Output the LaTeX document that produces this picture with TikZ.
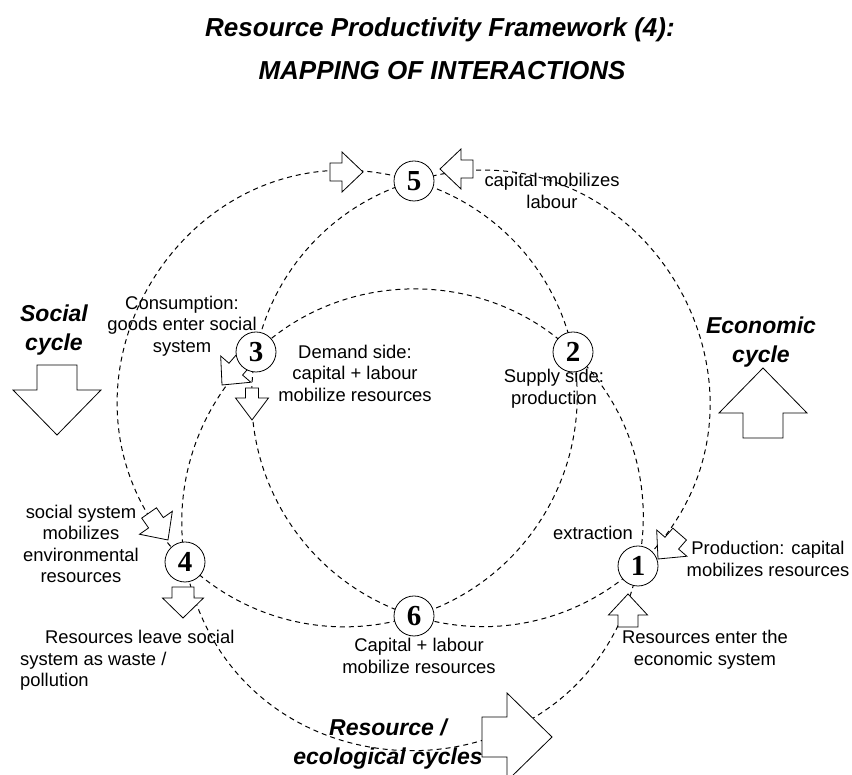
\documentclass[tikz,border=0pt]{standalone}
\usepackage{fontspec}
\setmainfont{Liberation Sans}
\newfontfamily\numfont{Liberation Serif}
\usetikzlibrary{backgrounds}

\begin{document}
\begin{tikzpicture}[x=1pt,y=1pt]
  \tikzset{num/.style={circle,draw,fill=white,line width=.8pt,minimum size=40pt,inner sep=0pt,font=\numfont\bfseries\fontsize{29}{29}\selectfont},
    lbl/.style={align=center,inner sep=0pt,font=\fontsize{18.4}{21.5}\selectfont},
    cyclelbl/.style={align=center,inner sep=0pt,font=\bfseries\itshape\fontsize{23}{29}\selectfont},
    titlelbl/.style={inner sep=0pt,font=\bfseries\itshape\fontsize{26}{26}\selectfont},
    ring/.style={line width=1pt,dash pattern=on 5pt off 4pt},
    blk/.style={draw,fill=white,line width=.8pt},
    pics/blkarr/.style args={#1/#2/#3/#4}{code={
      \draw[blk] (0,0) -- (-#4,#3/2) -- (-#4,#1/2) -- (-#4-#2,#1/2)
        -- (-#4-#2,-#1/2) -- (-#4,-#1/2) -- (-#4,-#3/2) -- cycle;}}}
  \useasboundingbox (0,0) rectangle (852,775);
  % title
  \node[titlelbl,anchor=base] (title) at (440,738) {Resource Productivity Framework (4):};
  \node[titlelbl,anchor=base] (subtitle) at (442,695) {MAPPING OF INTERACTIONS};
  % cycle names
  \node[cyclelbl] (social) at (54,445) {Social\\cycle};
  \node[cyclelbl] (economic) at (761,433) {Economic\\cycle};
  \node[cyclelbl] (ecol) at (388,31) {Resource /\\ecological cycles};
  % interaction labels
  \node[lbl] (caplab) at (552,584) {capital mobilizes\\labour};
  \node[lbl] (conslab) at (182,449) {Consumption:\\goods enter social\\system};
  \node[lbl] (demlab) at (355,402) {Demand side:\\capital + labour\\mobilize resources};
  \node[lbl] (suplab) at (554,386) {Supply side:\\production};
  \node[lbl] (extlab) at (593,242) {extraction};
  \node[lbl] (prodlab) at (768,216) {Production: capital\\mobilizes resources};
  \node[lbl] (envlab) at (81,231) {social system\\mobilizes\\environmental\\resources};
  \node[lbl] (mobres) at (419,119) {Capital + labour\\mobilize resources};
  \node[lbl] (enterlab) at (705,125) {Resources enter the\\economic system};
  \node[lbl,align=left,anchor=north west] (leavelab) at (20,145) {\hspace*{25pt}Resources leave social\\system as waste /\\pollution};
  % interaction points
  \node[num] (n5) at (414,594) {5};
  \node[num] (n3) at (256,423) {3};
  \node[num] (n2) at (573,423) {2};
  \node[num] (n4) at (185,213) {4};
  \node[num] (n1) at (638,209) {1};
  \node[num] (n6) at (414,159) {6};
  \begin{scope}[on background layer]
    \fill[white] (0,0) rectangle (852,775);
    % social ring
    \draw[ring] (n2.center) to[bend right=31,looseness=.92] (n5.center)
      to[bend right=76,looseness=1.37] (n4.center)
      to[bend right=31,looseness=.92] (n6.center)
      to[bend right=42,looseness=.98] (n2.center);
    % economic ring
    \draw[ring] (n5.center) to[bend right=31,looseness=.92] (n3.center)
      to[bend right=42,looseness=.98] (n6.center)
      to[bend right=30,looseness=.92] (n1.center)
      to[bend right=77,looseness=1.38] (n5.center);
    % resource ring
    \draw[ring] (n2.center) to[bend right=44,looseness=.98] (n3.center)
      to[bend right=28,looseness=.92] (n4.center)
      to[bend right=79,looseness=1.43] (n1.center)
      to[bend right=29,looseness=.92] (n2.center);
    % flows
    \pic at (363,603) {blkarr=18/12/40/21};
    \pic[rotate=180] at (440,606) {blkarr=18/12/40/21};
    \pic[rotate=-55] at (168,235) {blkarr=18/12/40/21};
    \pic[rotate=-131] at (222,390) {blkarr=18/12/40/21};
    \pic[rotate=-90] at (252,355) {blkarr=13/10/33/22};
    \pic[rotate=-131] at (658,216) {blkarr=18/12/40/21};
    \pic[rotate=90] at (628,181) {blkarr=20/12/39/21};
    \pic[rotate=-90] at (183,157) {blkarr=22/11/41/20};
    % cycle directions
    \pic[rotate=-90] at (57,340) {blkarr=40/25/88/45};
    \pic[rotate=90] at (763,407) {blkarr=40/25/88/45};
    \pic at (552,38) {blkarr=40/25/88/45};
  \end{scope}
\end{tikzpicture}
\end{document}
